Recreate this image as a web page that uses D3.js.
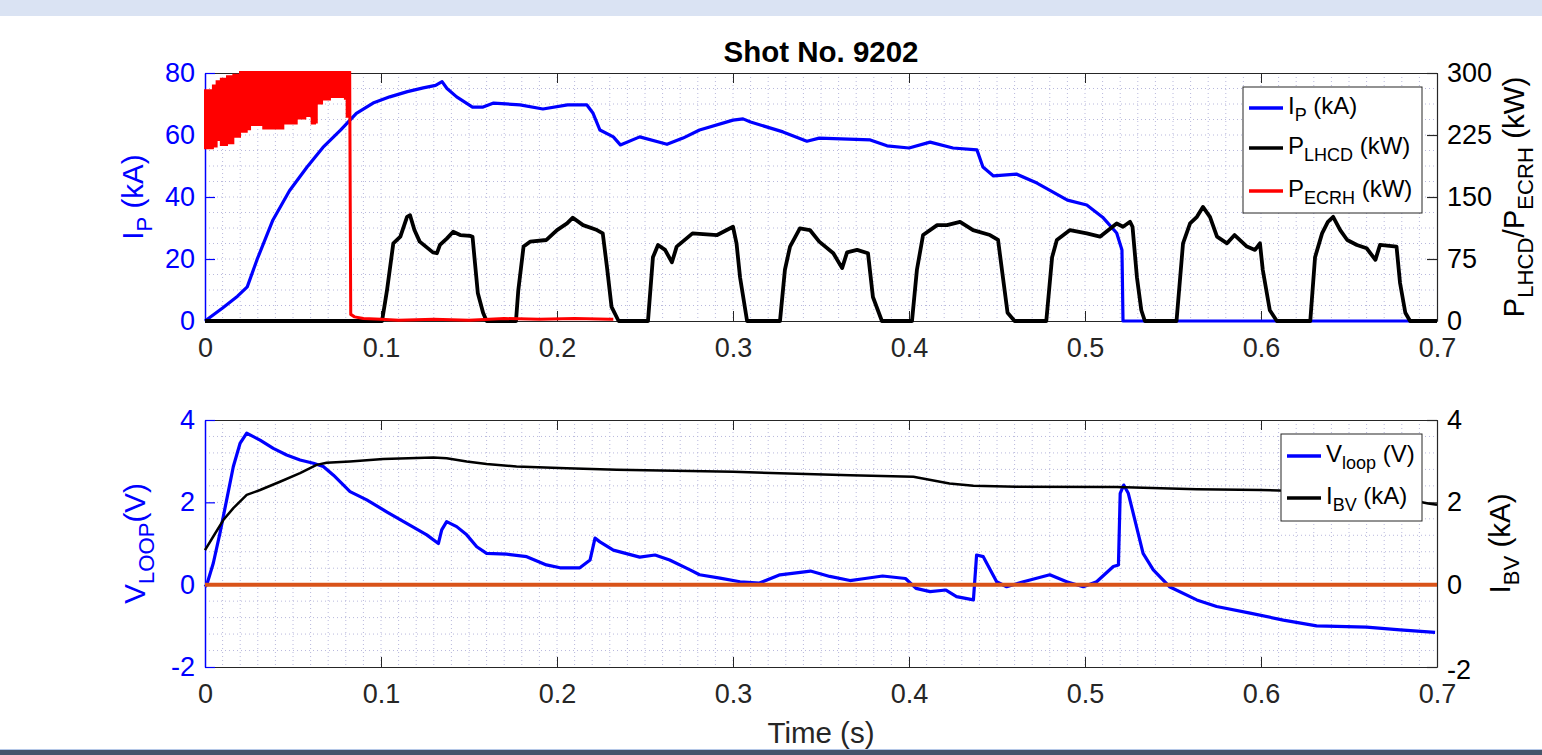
<!DOCTYPE html>
<html>
<head>
<meta charset="utf-8">
<script src="https://cdn.jsdelivr.net/npm/d3@7"></script>
<style>
  body { margin: 0; background: #fff; overflow: hidden; }
  svg { display: block; font-family: "Liberation Sans", Arial, sans-serif; }
</style>
</head>
<body>
<svg id="chart" width="1542" height="755"></svg>
<script>
// ---- data ----
const xTicks = [0, 0.1, 0.2, 0.3, 0.4, 0.5, 0.6, 0.7];
const ipTicks = [0, 20, 40, 60, 80];
const powerTicks = [0, 75, 150, 225, 300];
const vloopTicks = [-2, 0, 2, 4];
const ibvTicks = [-2, 0, 2, 4];

// plasma current (kA)
const ipData = [
  [0, 0], [0.01, 4.2], [0.0185, 8], [0.024, 11], [0.0295, 19.7], [0.0386, 32.6], [0.048, 42],
  [0.058, 49.7], [0.067, 56], [0.077, 61.6], [0.086, 67], [0.0955, 70.3], [0.105, 72.3],
  [0.115, 74], [0.124, 75.2], [0.131, 76], [0.1347, 77.2], [0.1375, 75], [0.143, 72.3],
  [0.152, 69], [0.158, 69], [0.164, 70.3], [0.179, 69.7], [0.192, 68.4], [0.206, 69.7],
  [0.217, 69.7], [0.2205, 67], [0.2244, 61.6], [0.232, 59.4], [0.236, 56.8], [0.247, 59.4],
  [0.2625, 57], [0.2716, 59], [0.281, 61.6], [0.3, 64.8], [0.3057, 65.2], [0.31, 64.2],
  [0.3284, 61], [0.342, 58], [0.349, 59], [0.378, 58.4], [0.3875, 56.5], [0.4, 55.8],
  [0.412, 57.7], [0.425, 55.8], [0.4386, 55.2], [0.442, 49.7], [0.448, 46.8], [0.461, 47.4],
  [0.4727, 44.5], [0.49, 39], [0.501, 37.4], [0.51, 33.5], [0.518, 28.4], [0.521, 22.9],
  [0.5216, 0], [0.7, 0]
];

// LHCD power (kW)
const lhcdData = [
  [0, 0], [0.1006, 0], [0.1034, 37], [0.107, 94], [0.111, 102], [0.1148, 126], [0.1165, 128],
  [0.119, 110], [0.122, 96], [0.1295, 83], [0.1318, 82], [0.1335, 92], [0.1375, 100],
  [0.141, 108], [0.145, 104], [0.1506, 103], [0.152, 102], [0.1534, 70], [0.155, 34],
  [0.158, 10], [0.16, 0],
  [0.1767, 0], [0.178, 37], [0.181, 90], [0.1847, 96], [0.194, 98], [0.2, 110], [0.2057, 118],
  [0.209, 125], [0.2148, 116], [0.2227, 110], [0.226, 106], [0.2284, 65], [0.231, 17], [0.235, 0],
  [0.2517, 0], [0.2545, 77], [0.2574, 92], [0.2614, 86], [0.2653, 71], [0.268, 90], [0.277, 106],
  [0.291, 104], [0.3, 114], [0.302, 94], [0.304, 53], [0.308, 0],
  [0.3267, 0], [0.3295, 62], [0.3324, 90], [0.338, 112], [0.3437, 110], [0.349, 96], [0.357, 82],
  [0.362, 64], [0.3648, 83], [0.3705, 86], [0.3767, 82], [0.3795, 29], [0.3846, 0],
  [0.4017, 0], [0.4045, 62], [0.408, 104], [0.416, 116], [0.4216, 116], [0.429, 120],
  [0.4364, 110], [0.446, 104], [0.4506, 98], [0.4528, 62], [0.456, 10], [0.46, 0],
  [0.478, 0], [0.4813, 77], [0.484, 98], [0.4915, 110], [0.501, 106], [0.5085, 102],
  [0.518, 118], [0.5216, 114], [0.5256, 120], [0.527, 114], [0.5295, 53], [0.532, 13], [0.534, 0],
  [0.552, 0], [0.5557, 94], [0.5597, 118], [0.5636, 126], [0.567, 138], [0.571, 126],
  [0.575, 102], [0.5807, 94], [0.585, 104], [0.592, 90], [0.5966, 86], [0.5994, 94],
  [0.601, 62], [0.605, 13], [0.609, 0],
  [0.628, 0], [0.6307, 77], [0.6347, 106], [0.638, 120], [0.641, 126], [0.645, 110],
  [0.649, 98], [0.6545, 92], [0.66, 88], [0.665, 74], [0.6676, 92], [0.677, 90],
  [0.679, 46], [0.682, 10], [0.6847, 0], [0.7, 0]
];

// ECRH power (kW): dense oscillation band, lower and upper envelopes
const ecrhT    = [0, 0.0045, 0.0066, 0.009, 0.0125, 0.0161, 0.0199, 0.0237, 0.0256, 0.0331, 0.0445, 0.0521, 0.057, 0.0597, 0.0606, 0.0625, 0.0635, 0.0665, 0.071, 0.0795, 0.0805, 0.0822];
const ecrhLow  = [209, 211, 219, 213, 215, 223, 229, 232, 237, 233, 239, 245, 248, 255, 239, 240, 263, 268, 271, 269, 247, 247];
const ecrhHigh = [279, 285, 290, 293, 296, 298, 302, 302, 302, 302, 302, 302, 302, 302, 302, 302, 302, 302, 302, 302, 302, 302];
const ecrhTail = [
  [0.0822, 302], [0.0826, 100], [0.0828, 8], [0.085, 5], [0.09, 3], [0.1, 2], [0.11, 1],
  [0.13, 2], [0.15, 1], [0.17, 3], [0.19, 2], [0.21, 3], [0.23, 2], [0.232, 2]
];

// loop voltage (V)
const vloopData = [
  [0, -0.05], [0.001, 0], [0.0047, 0.52], [0.0085, 1.25], [0.0123, 2.06], [0.0161, 2.87],
  [0.0199, 3.43], [0.0237, 3.68], [0.0313, 3.51], [0.0388, 3.31], [0.0464, 3.15], [0.054, 3.03],
  [0.0616, 2.95], [0.0672, 2.87], [0.073, 2.66], [0.0824, 2.26], [0.0919, 2.06], [0.1032, 1.77],
  [0.1146, 1.49], [0.126, 1.21], [0.1326, 1.0], [0.1345, 1.33], [0.1373, 1.53], [0.143, 1.41],
  [0.1487, 1.21], [0.1544, 0.92], [0.16, 0.76], [0.1714, 0.74], [0.1828, 0.68], [0.194, 0.48],
  [0.2017, 0.41], [0.213, 0.41], [0.2188, 0.6], [0.2216, 1.13], [0.2244, 1.04], [0.232, 0.84],
  [0.247, 0.67], [0.2557, 0.72], [0.264, 0.6], [0.2756, 0.36], [0.281, 0.24], [0.2926, 0.16],
  [0.304, 0.07], [0.315, 0.04], [0.3267, 0.24], [0.344, 0.33], [0.355, 0.2], [0.3665, 0.1],
  [0.375, 0.15], [0.385, 0.21], [0.398, 0.15], [0.404, -0.09], [0.412, -0.17], [0.421, -0.13],
  [0.427, -0.29], [0.4366, -0.37], [0.4384, 0.72], [0.4422, 0.68], [0.4498, 0.07], [0.4555, -0.05],
  [0.465, 0.07], [0.48, 0.24], [0.4896, 0.07], [0.499, -0.05], [0.5066, 0.07], [0.5161, 0.44],
  [0.519, 0.48], [0.52, 2.22], [0.522, 2.42], [0.5246, 2.22], [0.533, 0.76], [0.5388, 0.36],
  [0.548, -0.05], [0.5635, -0.37], [0.5748, -0.53], [0.5938, -0.69], [0.6127, -0.86],
  [0.6316, -1.0], [0.66, -1.03], [0.679, -1.1], [0.6989, -1.16]
];

// vertical field coil current (kA)
const ibvData = [
  [0, 0.84], [0.0047, 1.17], [0.0104, 1.57], [0.0161, 1.86], [0.0237, 2.18], [0.0313, 2.3],
  [0.0426, 2.5], [0.054, 2.71], [0.0634, 2.91], [0.0691, 2.96], [0.0824, 2.99], [0.1013, 3.05],
  [0.1297, 3.09], [0.1373, 3.07], [0.1487, 2.99], [0.16, 2.93], [0.177, 2.87], [0.2055, 2.83],
  [0.234, 2.79], [0.3, 2.74], [0.3665, 2.66], [0.4025, 2.62], [0.423, 2.46], [0.4366, 2.4],
  [0.461, 2.38], [0.518, 2.37], [0.5635, 2.32], [0.6, 2.3], [0.64, 2.25], [0.68, 2.1],
  [0.695, 1.97], [0.7, 1.94]
];

const zeroData = [[0, 0], [0.7, 0]];

// ---- layout ----
const svg = d3.select("#chart");
const W = 1542, H = 755;
const left = 205, right = 1437;
const top1 = 73, bot1 = 321, top2 = 420, bot2 = 667;
const blue = "#0000ff", red = "#ff0000", black = "#000000", orange = "#d95319";
const axisGrey = "#262626";
const tickFs = 27, labelFs = 29.5, legendFs = 24;

// page frame bands
svg.append("rect").attr("x", 0).attr("y", 0).attr("width", W).attr("height", 16).attr("fill", "#dae3f3");
svg.append("rect").attr("x", 0).attr("y", 749).attr("width", W).attr("height", 1).attr("fill", "#b4c7e7");
svg.append("rect").attr("x", 0).attr("y", 750).attr("width", W).attr("height", 5).attr("fill", "#44546a");

const x = d3.scaleLinear().domain([0, 0.7]).range([left, right]);
const yIp = d3.scaleLinear().domain([0, 80]).range([bot1, top1]);
const yP = d3.scaleLinear().domain([0, 300]).range([bot1, top1]);
const yV = d3.scaleLinear().domain([-2, 4]).range([bot2, top2]);
const yIbv = d3.scaleLinear().domain([-2, 4]).range([bot2, top2]);

// text with subscripts: parts = [["I"], ["P", true], [" (kA)"]]
function richText(g, parts, fs) {
  let shifted = false;
  parts.forEach(p => {
    const sub = p[1] === true;
    const ts = g.append("tspan").text(p[0]).attr("font-size", sub ? fs * 0.75 : fs);
    if (sub && !shifted) { ts.attr("dy", fs * 0.3); shifted = true; }
    else if (!sub && shifted) { ts.attr("dy", -fs * 0.3); shifted = false; }
  });
  return g;
}

function drawPanel(top, bot, yL, yR, lTicks, rTicks, minorY, clipId) {
  const g = svg.append("g");
  g.append("rect").attr("x", left).attr("y", top).attr("width", right - left).attr("height", bot - top)
    .attr("fill", "#fff");

  // minor dotted grid
  const gx = d3.range(1, 70).map(i => i / 100);
  g.selectAll(null).data(gx).enter().append("line")
    .attr("x1", d => x(d)).attr("x2", d => x(d)).attr("y1", top).attr("y2", bot)
    .attr("stroke", "#b8b8dc").attr("stroke-width", 1).attr("stroke-dasharray", "1,3");
  g.selectAll(null).data(minorY).enter().append("line")
    .attr("x1", left).attr("x2", right).attr("y1", d => yL(d)).attr("y2", d => yL(d))
    .attr("stroke", "#b8b8dc").attr("stroke-width", 1).attr("stroke-dasharray", "1,3");

  svg.append("clipPath").attr("id", clipId).append("rect")
    .attr("x", left - 2).attr("y", top - 2).attr("width", right - left + 4).attr("height", bot - top + 4);

  // axes
  const xb = g.append("g").attr("transform", `translate(0,${bot})`)
    .call(d3.axisBottom(x).tickValues(xTicks).tickSizeInner(-10).tickSizeOuter(0).tickPadding(17)
      .tickFormat(d => String(d)));
  const xt = g.append("g").attr("transform", `translate(0,${top})`)
    .call(d3.axisTop(x).tickValues(xTicks).tickSizeInner(-10).tickSizeOuter(0).tickFormat(""));
  [xb, xt].forEach(a => {
    a.select(".domain").attr("stroke", axisGrey).attr("stroke-width", 1.2);
    a.selectAll(".tick line").attr("stroke", axisGrey);
    a.selectAll("text").attr("fill", axisGrey).style("font-size", tickFs + "px")
      .style("font-family", "'Liberation Sans', Arial, sans-serif");
  });

  const yl = g.append("g").attr("transform", `translate(${left},0)`)
    .call(d3.axisLeft(yL).tickValues(lTicks).tickSizeInner(-10).tickSizeOuter(0).tickPadding(10)
      .tickFormat(d => String(d)));
  yl.select(".domain").attr("stroke", blue).attr("stroke-width", 1.5);
  yl.selectAll(".tick line").attr("stroke", blue).attr("stroke-width", 1.2);
  yl.selectAll("text").attr("fill", blue).style("font-size", tickFs + "px")
    .style("font-family", "'Liberation Sans', Arial, sans-serif");

  const yr = g.append("g").attr("transform", `translate(${right},0)`)
    .call(d3.axisRight(yR).tickValues(rTicks).tickSizeInner(-10).tickSizeOuter(0).tickPadding(10)
      .tickFormat(d => String(d)));
  yr.select(".domain").attr("stroke", axisGrey).attr("stroke-width", 1.2);
  yr.selectAll(".tick line").attr("stroke", axisGrey).attr("stroke-width", 1.2);
  yr.selectAll("text").attr("fill", black).style("font-size", tickFs + "px")
    .style("font-family", "'Liberation Sans', Arial, sans-serif");
  // the lowest right label sits a little below its tick, as in the original
  yr.selectAll(".tick").filter(d => d < 0).select("text").attr("dy", "0.42em");

  return svg.append("g").attr("clip-path", `url(#${clipId})`);
}

function series(g, data, yS, color, width) {
  g.append("path").datum(data)
    .attr("fill", "none").attr("stroke", color).attr("stroke-width", width)
    .attr("stroke-linejoin", "round")
    .attr("d", d3.line().x(d => x(d[0])).y(d => yS(d[1])));
}

// ---- top panel ----
const p1 = drawPanel(top1, bot1, yIp, yP, ipTicks, powerTicks, d3.range(5, 80, 5), "clip1");
series(p1, ipData, yIp, blue, 3.2);
series(p1, lhcdData, yP, black, 3.8);
p1.append("path").datum(ecrhT.map((t, i) => [t, ecrhLow[i], ecrhHigh[i]]))
  .attr("fill", red).attr("stroke", red).attr("stroke-width", 2)
  .attr("d", d3.area().curve(d3.curveStepAfter).x(d => x(d[0])).y0(d => yP(d[1])).y1(d => yP(d[2])));
series(p1, ecrhTail, yP, red, 3);

// ---- bottom panel ----
const p2 = drawPanel(top2, bot2, yV, yIbv, vloopTicks, ibvTicks, d3.range(-1.6, 4, 0.4), "clip2");
series(p2, vloopData, yV, blue, 3.2);
series(p2, ibvData, yIbv, black, 2.5);
series(p2, zeroData, yV, orange, 4);

// ---- titles and labels ----
svg.append("text").attr("x", (left + right) / 2).attr("y", 62).attr("text-anchor", "middle")
  .attr("font-size", labelFs).attr("font-weight", "bold").attr("fill", black).text("Shot No. 9202");

svg.append("text").attr("x", (left + right) / 2).attr("y", 743).attr("text-anchor", "middle")
  .attr("font-size", labelFs).attr("fill", axisGrey).text("Time (s)");

function vLabel(xp, yc, parts, color) {
  const t = svg.append("text").attr("x", xp).attr("y", yc).attr("text-anchor", "middle")
    .attr("fill", color).attr("transform", `rotate(-90,${xp},${yc})`);
  richText(t, parts, labelFs);
}
vLabel(143, (top1 + bot1) / 2, [["I"], ["P", true], [" (kA)"]], blue);
vLabel(1524, (top1 + bot1) / 2, [["P"], ["LHCD", true], ["/P"], ["ECRH", true], [" (kW)"]], black);
vLabel(145, (top2 + bot2) / 2, [["V"], ["LOOP", true], ["(V)"]], blue);
vLabel(1510, (top2 + bot2) / 2, [["I"], ["BV", true], [" (kA)"]], black);

// ---- legends ----
function legend(bx, by, bw, bh, entries) {
  const g = svg.append("g");
  g.append("rect").attr("x", bx).attr("y", by).attr("width", bw).attr("height", bh)
    .attr("fill", "#fff").attr("stroke", axisGrey).attr("stroke-width", 1);
  entries.forEach(e => {
    g.append("line").attr("x1", bx + 6).attr("x2", bx + 40).attr("y1", e.y).attr("y2", e.y)
      .attr("stroke", e.color).attr("stroke-width", 3.5);
    const t = g.append("text").attr("x", bx + 45).attr("y", e.y + 6).attr("fill", black);
    richText(t, e.parts, legendFs);
  });
}
legend(1243, 87, 179, 126, [
  { y: 108, color: blue, parts: [["I"], ["P", true], [" (kA)"]] },
  { y: 148, color: black, parts: [["P"], ["LHCD", true], [" (kW)"]] },
  { y: 191, color: red, parts: [["P"], ["ECRH", true], [" (kW)"]] }
]);
legend(1281, 434, 141, 87, [
  { y: 456, color: blue, parts: [["V"], ["loop", true], [" (V)"]] },
  { y: 498, color: black, parts: [["I"], ["BV", true], [" (kA)"]] }
]);
</script>
</body>
</html>
